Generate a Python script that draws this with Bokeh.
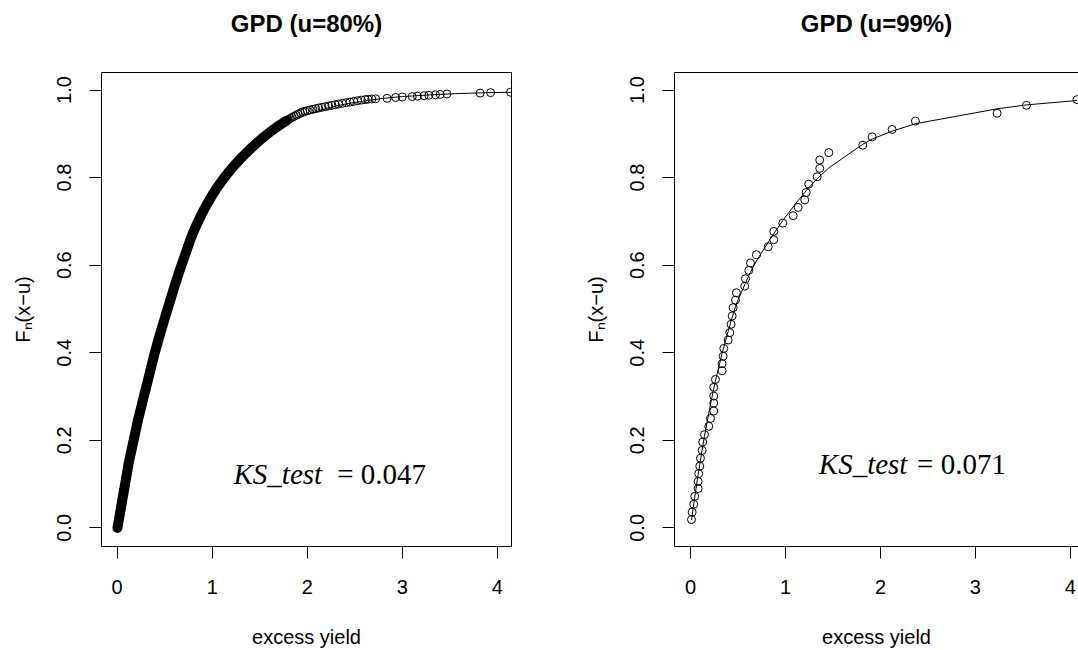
from bokeh.plotting import figure
from bokeh.models import Range1d, FixedTicker, PrintfTickFormatter, LinearAxis
from bokeh.layouts import row
from bokeh.core.properties import value
from bokeh.embed import file_html
from bokeh.resources import INLINE

# ---------------- data: GPD (u=80%) ----------------
left_title = "GPD (u=80%)"
left_ks = "0.047"
left_ecdf_x = [
    0.003, 0.007, 0.011, 0.015, 0.019, 0.023, 0.027, 0.031, 0.035, 0.039,
    0.043, 0.047, 0.051, 0.055, 0.059, 0.063, 0.067, 0.071, 0.075, 0.079,
    0.083, 0.087, 0.091, 0.095, 0.099, 0.103, 0.107, 0.111, 0.115, 0.119,
    0.123, 0.128, 0.133, 0.138, 0.143, 0.148, 0.153, 0.158, 0.163, 0.168,
    0.173, 0.178, 0.183, 0.188, 0.193, 0.198, 0.203, 0.208, 0.213, 0.218,
    0.223, 0.229, 0.235, 0.240, 0.246, 0.252, 0.258, 0.263, 0.269, 0.275,
    0.281, 0.286, 0.292, 0.298, 0.304, 0.309, 0.315, 0.321, 0.327, 0.332,
    0.338, 0.344, 0.350, 0.355, 0.361, 0.367, 0.373, 0.378, 0.384, 0.390,
    0.396, 0.402, 0.409, 0.415, 0.422, 0.428, 0.435, 0.441, 0.448, 0.454,
    0.461, 0.468, 0.475, 0.482, 0.489, 0.496, 0.503, 0.510, 0.517, 0.524,
    0.531, 0.538, 0.545, 0.552, 0.559, 0.566, 0.573, 0.580, 0.587, 0.594,
    0.601, 0.608, 0.616, 0.623, 0.631, 0.638, 0.646, 0.653, 0.661, 0.669,
    0.677, 0.685, 0.693, 0.701, 0.709, 0.717, 0.725, 0.733, 0.741, 0.749,
    0.757, 0.765, 0.773, 0.782, 0.791, 0.801, 0.811, 0.821, 0.831, 0.842,
    0.853, 0.864, 0.875, 0.886, 0.898, 0.910, 0.922, 0.934, 0.947, 0.960,
    0.973, 0.987, 1.001, 1.015, 1.030, 1.045, 1.061, 1.077, 1.094, 1.111,
    1.128, 1.146, 1.164, 1.183, 1.202, 1.222, 1.242, 1.263, 1.284, 1.306,
    1.329, 1.352, 1.376, 1.400, 1.424, 1.449, 1.474, 1.500, 1.527, 1.555,
    1.584, 1.614, 1.645, 1.677, 1.711, 1.746, 1.783,
    # upper tail: circles start to separate
    1.802, 1.822, 1.842, 1.863, 1.884, 1.906, 1.929, 1.952, 1.975, 2.00,
    2.03, 2.06, 2.09, 2.12, 2.155, 2.19, 2.225, 2.26, 2.295, 2.33,
    2.37, 2.41, 2.45, 2.49, 2.53, 2.57, 2.61, 2.64, 2.68,
    2.72, 2.84, 2.93, 3.00, 3.105, 3.16, 3.23, 3.28, 3.35, 3.40,
    3.47, 3.82, 3.93, 4.14,
]
left_ecdf_y = [
    0.000, 0.005, 0.010, 0.015, 0.020, 0.025, 0.030, 0.035, 0.040, 0.045,
    0.050, 0.055, 0.060, 0.065, 0.070, 0.075, 0.080, 0.085, 0.090, 0.095,
    0.100, 0.105, 0.110, 0.115, 0.120, 0.125, 0.130, 0.135, 0.140, 0.145,
    0.150, 0.155, 0.160, 0.165, 0.170, 0.175, 0.180, 0.185, 0.190, 0.195,
    0.200, 0.205, 0.210, 0.215, 0.220, 0.225, 0.230, 0.235, 0.240, 0.245,
    0.250, 0.255, 0.260, 0.265, 0.270, 0.275, 0.280, 0.285, 0.290, 0.295,
    0.300, 0.305, 0.310, 0.315, 0.320, 0.325, 0.330, 0.335, 0.340, 0.345,
    0.350, 0.355, 0.360, 0.365, 0.370, 0.375, 0.380, 0.385, 0.390, 0.395,
    0.400, 0.405, 0.410, 0.415, 0.420, 0.425, 0.430, 0.435, 0.440, 0.445,
    0.450, 0.455, 0.460, 0.465, 0.470, 0.475, 0.480, 0.485, 0.490, 0.495,
    0.500, 0.505, 0.510, 0.515, 0.520, 0.525, 0.530, 0.535, 0.540, 0.545,
    0.550, 0.555, 0.560, 0.565, 0.570, 0.575, 0.580, 0.585, 0.590, 0.595,
    0.600, 0.605, 0.610, 0.615, 0.620, 0.625, 0.630, 0.635, 0.640, 0.645,
    0.650, 0.655, 0.660, 0.665, 0.670, 0.675, 0.680, 0.685, 0.690, 0.695,
    0.700, 0.705, 0.710, 0.715, 0.720, 0.725, 0.730, 0.735, 0.740, 0.745,
    0.750, 0.755, 0.760, 0.765, 0.770, 0.775, 0.780, 0.785, 0.790, 0.795,
    0.800, 0.805, 0.810, 0.815, 0.820, 0.825, 0.830, 0.835, 0.840, 0.845,
    0.850, 0.855, 0.860, 0.865, 0.870, 0.875, 0.880, 0.885, 0.890, 0.895,
    0.900, 0.905, 0.910, 0.915, 0.920, 0.925, 0.930,
    # upper tail
    0.9325, 0.935, 0.9375, 0.940, 0.9425, 0.945, 0.9475, 0.950, 0.9515, 0.953,
    0.9545, 0.956, 0.9575, 0.959, 0.9605, 0.962, 0.9635, 0.965, 0.9665, 0.968,
    0.9695, 0.971, 0.9725, 0.974, 0.9755, 0.977, 0.978, 0.979, 0.9795,
    0.980, 0.981, 0.983, 0.984, 0.985, 0.986, 0.987, 0.988, 0.989, 0.990,
    0.991, 0.993, 0.994, 0.995,
]
left_fit_x = [0.0, 0.1, 0.2, 0.3, 0.4, 0.5, 0.6, 0.7, 0.8, 0.9, 1.0, 1.1, 1.2,
              1.3, 1.4, 1.5, 1.6, 1.7, 1.8, 1.9, 2.0, 2.2, 2.4, 2.6, 2.8, 3.0,
              3.3, 3.6, 3.9, 4.2]
left_fit_y = [0.0, 0.120, 0.226, 0.318, 0.400, 0.472, 0.543, 0.611, 0.668,
              0.719, 0.762, 0.795, 0.822, 0.845, 0.866, 0.884, 0.899, 0.912,
              0.924, 0.935, 0.944, 0.958, 0.968, 0.975, 0.981, 0.985, 0.989,
              0.992, 0.994, 0.995]
left_dense_limit = 0.93   # below this level the ~1000 overplotted circles merge

# ---------------- data: GPD (u=99%) ----------------
right_title = "GPD (u=99%)"
right_ks = "0.071"
right_ecdf_x = [0.011, 0.018, 0.035, 0.045, 0.081, 0.081, 0.087, 0.098, 0.105,
                0.123, 0.129, 0.147, 0.193, 0.211, 0.245, 0.245, 0.245, 0.245,
                0.263, 0.333, 0.333, 0.344, 0.351, 0.397, 0.414, 0.428, 0.439,
                0.449, 0.474, 0.484, 0.571, 0.579, 0.614, 0.632, 0.695, 0.818,
                0.877, 0.877, 0.972, 1.081, 1.134, 1.203, 1.218, 1.245, 1.334,
                1.361, 1.361, 1.456, 1.814, 1.913, 2.123, 2.368, 3.228, 3.537,
                4.070]
right_ecdf_y = [0.019, 0.036, 0.054, 0.072, 0.090, 0.106, 0.124, 0.141, 0.159,
                0.177, 0.196, 0.213, 0.232, 0.250, 0.267, 0.285, 0.301, 0.321,
                0.339, 0.359, 0.375, 0.392, 0.410, 0.429, 0.446, 0.465, 0.484,
                0.503, 0.520, 0.537, 0.552, 0.569, 0.588, 0.605, 0.624, 0.642,
                0.658, 0.677, 0.696, 0.713, 0.732, 0.749, 0.766, 0.785, 0.802,
                0.821, 0.840, 0.857, 0.874, 0.893, 0.910, 0.929, 0.947, 0.965,
                0.978]
right_fit_y = [0.018, 0.029, 0.055, 0.070, 0.122, 0.122, 0.130, 0.145, 0.154,
               0.178, 0.186, 0.209, 0.262, 0.282, 0.318, 0.318, 0.318, 0.318,
               0.336, 0.398, 0.398, 0.407, 0.413, 0.449, 0.462, 0.473, 0.481,
               0.488, 0.505, 0.512, 0.555, 0.559, 0.576, 0.584, 0.610, 0.652,
               0.672, 0.672, 0.702, 0.733, 0.748, 0.766, 0.770, 0.777, 0.797,
               0.803, 0.803, 0.822, 0.876, 0.888, 0.906, 0.923, 0.957, 0.966,
               0.976]

x_ticks = [0, 1, 2, 3, 4]
y_ticks = [0.0, 0.2, 0.4, 0.6, 0.8, 1.0]
x_label = "excess yield"
y_label = "F\u2099(x\u2212u)"

# annotation anchor positions (data units)
left_ks_pos = (1.224, 2.316, 0.1235)
right_ks_pos = (1.351, 2.386, 0.146)

SANS = "Liberation Sans"
SERIF = "Liberation Serif"


def style_axis(ax):
    ax.axis_line_color = "black"
    ax.axis_line_width = 1
    ax.major_tick_line_color = "black"
    ax.major_tick_out = 12
    ax.major_tick_in = 0
    ax.minor_tick_line_color = None
    ax.major_label_text_font = SANS
    ax.major_label_text_font_size = "20px"
    ax.major_label_text_color = "black"
    ax.axis_label_text_font = SANS
    ax.axis_label_text_font_size = "20px"
    ax.axis_label_text_font_style = "normal"
    ax.axis_label_text_color = "black"


def line_only_axis(label=None):
    ax = LinearAxis(ticker=FixedTicker(ticks=[]))
    ax.axis_line_color = "black"
    ax.major_tick_line_color = None
    ax.minor_tick_line_color = None
    ax.major_tick_out = 0
    ax.major_tick_in = 0
    ax.major_label_standoff = 0
    ax.major_label_text_font_size = "0px"
    if label:
        ax.axis_label = label
        ax.axis_label_text_font = SANS
        ax.axis_label_text_font_size = "24px"
        ax.axis_label_text_font_style = "bold"
        ax.axis_label_text_color = "black"
        ax.axis_label_standoff = 36
    return ax


def make_panel(title, xs, ys, fx, fy, ks, ks_pos, width, x_range,
               mb_left, mb_right, right_box, dense_limit=None):
    p = figure(width=width, height=650, x_range=x_range,
               y_range=Range1d(-0.0425, 1.04),
               output_backend="svg", toolbar_location=None,
               min_border_left=mb_left, min_border_right=mb_right,
               min_border_top=72, min_border_bottom=102)
    p.outline_line_color = None
    p.grid.visible = False
    p.background_fill_color = "white"
    p.border_fill_color = "white"

    p.xaxis.ticker = FixedTicker(ticks=x_ticks)
    p.yaxis.ticker = FixedTicker(ticks=y_ticks)
    p.yaxis.formatter = PrintfTickFormatter(format="%.1f")
    p.yaxis.major_label_orientation = "vertical"
    for ax in p.xaxis + p.yaxis:
        style_axis(ax)
    p.xaxis.major_label_standoff = 21
    p.yaxis.major_label_standoff = 18
    p.xaxis.axis_label = x_label
    p.yaxis.axis_label = y_label
    p.xaxis.axis_label_standoff = 29
    p.yaxis.axis_label_standoff = 21

    # top box edge carrying the panel title
    p.add_layout(line_only_axis(title), "above")
    if right_box:
        p.add_layout(line_only_axis(), "right")

    # overplotted circles in the dense part merge into a solid band
    if dense_limit is not None:
        dx = [x for x, y in zip(xs, ys) if y <= dense_limit]
        dy = [y for y in ys if y <= dense_limit]
        p.line(dx, dy, line_color="black", line_width=10,
               line_cap="round", line_join="round")
    p.scatter(xs, ys, marker="circle", size=8, fill_color=None,
              line_color="black", line_width=1)
    p.line(fx, fy, line_color="black", line_width=1)

    p.text(x=[ks_pos[0]], y=[ks_pos[2]], text=["KS_test"],
           text_font=value(SERIF), text_font_style="italic",
           text_font_size="29px", text_color="black",
           text_align="left", text_baseline="alphabetic")
    p.text(x=[ks_pos[1]], y=[ks_pos[2]], text=["= " + ks],
           text_font=value(SERIF), text_font_style="normal",
           text_font_size="29px", text_color="black",
           text_align="left", text_baseline="alphabetic")
    return p


p1 = make_panel(left_title, left_ecdf_x, left_ecdf_y, left_fit_x, left_fit_y,
                left_ks, left_ks_pos, 560, Range1d(-0.165, 4.150), 101, 49, True,
                dense_limit=left_dense_limit)
p2 = make_panel(right_title, right_ecdf_x, right_ecdf_y, right_ecdf_x, right_fit_y,
                right_ks, right_ks_pos, 518, Range1d(-0.168, 4.085), 114, 0, False)

layout = row(p1, p2)
open("out.html", "w").write(file_html(layout, INLINE))
